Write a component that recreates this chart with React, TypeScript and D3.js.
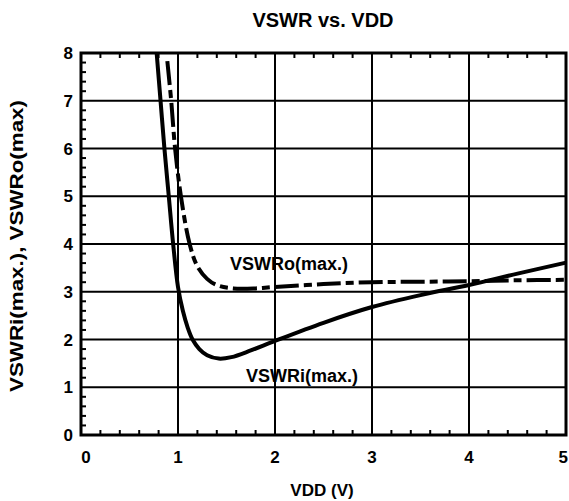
import React from "react";
import * as d3 from "d3";

const vddI = [0.78, 0.82, 0.86, 0.905, 0.95, 1.0, 1.05, 1.1, 1.15, 1.22, 1.3, 1.42, 1.55, 1.75, 2.0, 2.5, 3.0, 3.5, 4.0, 4.5, 5.0];
const vswrI = [8, 7, 6, 5, 4, 3.1, 2.6, 2.25, 2.0, 1.8, 1.67, 1.6, 1.63, 1.77, 1.97, 2.35, 2.68, 2.93, 3.14, 3.38, 3.61];

const vddO = [0.89, 0.93, 0.97, 1.03, 1.12, 1.2, 1.3, 1.4, 1.57, 1.8, 2.0, 2.5, 3.0, 3.5, 4.0, 4.5, 5.0];
const vswrO = [7.83, 7, 6, 5, 4, 3.53, 3.27, 3.14, 3.07, 3.07, 3.1, 3.16, 3.2, 3.21, 3.22, 3.24, 3.25];

const xTicks = [0, 1, 2, 3, 4, 5];
const yTicks = [0, 1, 2, 3, 4, 5, 6, 7, 8];

const W = 569, H = 501;
const L = 81, R = 566, T = 53, B = 435;

export default function App() {
  const x = d3.scaleLinear().domain([0, 5]).range([L, R]);
  const y = d3.scaleLinear().domain([0, 8]).range([B, T]);
  const line = d3.line<[number, number]>().x(d => x(d[0])).y(d => y(d[1])).curve(d3.curveCatmullRom.alpha(0.5));
  const dI = line(vddI.map((v, i) => [v, vswrI[i]] as [number, number])) || "";
  const dO = line(vddO.map((v, i) => [v, vswrO[i]] as [number, number])) || "";
  const minorX = d3.range(0, 25).map(i => i * 0.2).filter(v => Math.abs(v - Math.round(v)) > 1e-6);
  const minorY = d3.range(0, 40).map(i => i * 0.2).filter(v => Math.abs(v - Math.round(v)) > 1e-6);
  const font = "Arial, 'Liberation Sans', sans-serif";
  return (
    <svg width={W} height={H} style={{ position: "absolute", left: 0, top: 0, background: "#fff" }} fontFamily={font}>
      <rect x={0} y={0} width={W} height={H} fill="#fff" />
      <text x={323} y={27} textAnchor="middle" fontSize={20} fontWeight="bold">VSWR vs. VDD</text>
      {xTicks.slice(1, -1).map(t => (
        <line key={"gx" + t} x1={x(t)} x2={x(t)} y1={T} y2={B} stroke="#000" strokeWidth={2} />
      ))}
      {yTicks.slice(1, -1).map(t => (
        <line key={"gy" + t} x1={L} x2={R} y1={y(t)} y2={y(t)} stroke="#000" strokeWidth={2} />
      ))}
      {minorX.map(t => (
        <g key={"mx" + t}>
          <line x1={x(t)} x2={x(t)} y1={B} y2={B - 5} stroke="#000" strokeWidth={2} />
          <line x1={x(t)} x2={x(t)} y1={T} y2={T + 5} stroke="#000" strokeWidth={2} />
        </g>
      ))}
      {minorY.map(t => (
        <line key={"my" + t} x1={L} x2={L + 5} y1={y(t)} y2={y(t)} stroke="#000" strokeWidth={2} />
      ))}
      <path d={dI} fill="none" stroke="#000" strokeWidth={4} strokeLinejoin="round" />
      <path d={dO} fill="none" stroke="#000" strokeWidth={4} strokeDasharray="24 5 8 5" />
      <rect x={L} y={T} width={R - L} height={B - T} fill="none" stroke="#000" strokeWidth={3} />
      {xTicks.map(t => (
        <text key={"xl" + t} x={t === 5 ? 568 : x(t) + (t === 0 ? 5 : 0)} y={463} textAnchor={t === 5 ? "end" : "middle"} fontSize={17} fontWeight="bold">{t}</text>
      ))}
      {yTicks.map(t => (
        <text key={"yl" + t} x={73} y={y(t) + 6} textAnchor="end" fontSize={17} fontWeight="bold">{t}</text>
      ))}
      <text x={322} y={496} textAnchor="middle" fontSize={17} fontWeight="bold">VDD (V)</text>
      <text transform="translate(23,246) rotate(-90)" textAnchor="middle" fontSize={18} fontWeight="bold" textLength={292} lengthAdjust="spacingAndGlyphs">VSWRi(max.), VSWRo(max)</text>
      <text x={289} y={270} textAnchor="middle" fontSize={18} fontWeight="bold">VSWRo(max.)</text>
      <text x={302} y={382} textAnchor="middle" fontSize={18} fontWeight="bold">VSWRi(max.)</text>
    </svg>
  );
}
